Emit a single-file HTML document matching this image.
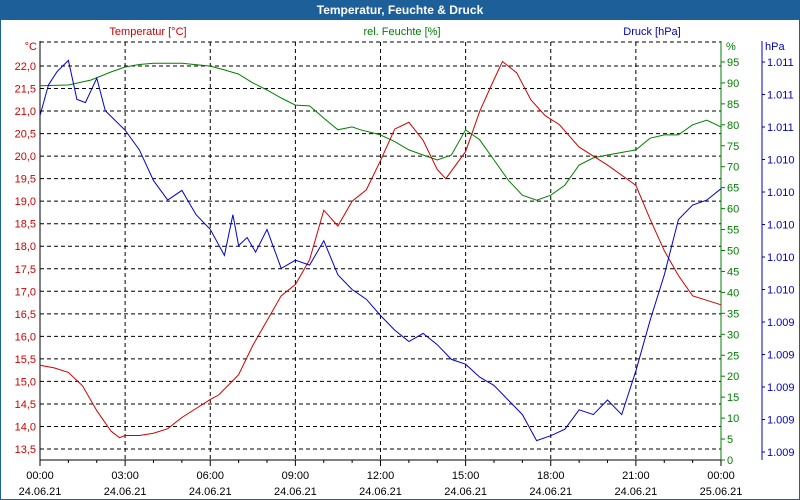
<!DOCTYPE html>
<html><head><meta charset="utf-8"><style>
body{margin:0;width:800px;height:500px;overflow:hidden;background:#fff;font-family:"Liberation Sans",sans-serif}
svg{display:block}
</style></head><body>
<svg id="c" width="800" height="500" xmlns="http://www.w3.org/2000/svg">
<rect x="0" y="0" width="800" height="500" fill="#fff" stroke="#1d5f98" stroke-width="2"/>
<rect x="0" y="0" width="800" height="20" fill="#1d5f98"/>
<text x="400" y="14" fill="#fff" font-size="12" font-weight="bold" text-anchor="middle">Temperatur, Feuchte &amp; Druck</text>
<text x="148" y="35" fill="#d00000" font-size="11" text-anchor="middle">Temperatur [°C]</text>
<text x="402" y="35" fill="#008000" font-size="11" text-anchor="middle">rel. Feuchte [%]</text>
<text x="652" y="35" fill="#0000c0" font-size="11" text-anchor="middle">Druck [hPa]</text>
<text x="37" y="50" fill="#d00000" font-size="11" text-anchor="end">°C</text>
<text x="726" y="50" fill="#008000" font-size="11">%</text>
<text x="765" y="50" fill="#0000c0" font-size="11">hPa</text>
<g id="grid"></g><g id="axes"></g><g id="series"></g>
</svg>
<script>
const tempTimes=[0,0.5,1,1.5,2,2.5,2.8,3,3.5,4,4.5,5,5.5,6,6.3,7,7.5,8,8.5,9,9.5,10,10.5,11,11.5,12,12.5,13,13.5,14,14.3,15,15.5,16,16.3,16.8,17.3,17.8,18.3,19,20,21,21.5,22,22.5,23,23.5,24];
const tempValues=[15.36,15.3,15.2,14.9,14.35,13.9,13.75,13.8,13.8,13.85,13.95,14.2,14.4,14.6,14.7,15.15,15.8,16.35,16.9,17.15,17.7,18.8,18.45,19.0,19.25,19.9,20.6,20.75,20.35,19.7,19.5,20.1,21.0,21.7,22.1,21.85,21.25,20.9,20.7,20.2,19.8,19.35,18.6,17.9,17.35,16.9,16.8,16.7];
const humTimes=[0,1,1.8,2.5,3,3.5,4,5,6,6.5,7,7.5,8,8.5,9,9.5,10,10.5,11,11.3,12,12.5,13,13.5,14,14.5,15,15.5,16,16.5,17,17.5,18,18.5,19,19.5,20,21,21.5,22,22.5,23,23.5,24];
const humValues=[89.3,89.5,90.7,92.6,93.8,94.4,94.7,94.7,94.0,93.1,92.1,90.0,88.3,86.4,84.7,84.5,81.6,78.8,79.5,78.8,77.6,76.0,74.0,72.8,71.6,72.8,78.8,76.4,71.6,66.8,63.2,62.0,63.2,65.6,70.4,72.1,72.8,74.0,76.8,77.6,77.6,80.0,81.1,79.5];
const presTimes=[0,0.3,0.6,1,1.3,1.6,2,2.3,3,3.5,4,4.5,5,5.5,6,6.5,6.8,7,7.3,7.6,8,8.5,9,9.5,10,10.5,11,11.5,12,12.5,13,13.5,14,14.5,15,15.5,16,16.5,17,17.5,18,18.5,19,19.5,20,20.5,21,21.5,22,22.5,23,23.5,24];
const presValues=[1010.87,1011.06,1011.14,1011.21,1010.97,1010.95,1011.10,1010.90,1010.78,1010.66,1010.47,1010.35,1010.41,1010.26,1010.17,1010.01,1010.26,1010.07,1010.12,1010.03,1010.17,1009.93,1009.98,1009.95,1010.10,1009.89,1009.80,1009.74,1009.64,1009.55,1009.48,1009.53,1009.46,1009.37,1009.34,1009.26,1009.21,1009.12,1009.03,1008.87,1008.90,1008.94,1009.06,1009.03,1009.12,1009.03,1009.30,1009.61,1009.89,1010.23,1010.32,1010.35,1010.42];
const tempTicks=[13.5,14.0,14.5,15.0,15.5,16.0,16.5,17.0,17.5,18.0,18.5,19.0,19.5,20.0,20.5,21.0,21.5,22.0];
const humTicks=[0,5,10,15,20,25,30,35,40,45,50,55,60,65,70,75,80,85,90,95];
const presTickValues=[1008.8,1009.0,1009.2,1009.4,1009.6,1009.8,1010.0,1010.2,1010.4,1010.6,1010.8,1011.0,1011.2];
const presTickLabels=["1.009","1.009","1.009","1.009","1.009","1.010","1.010","1.010","1.010","1.010","1.011","1.011","1.011"];
const timeLabels=["00:00","03:00","06:00","09:00","12:00","15:00","18:00","21:00","00:00"];
const dateLabels=["24.06.21","24.06.21","24.06.21","24.06.21","24.06.21","24.06.21","24.06.21","24.06.21","25.06.21"];

const X0=40,X1=721,YB=460,YT=42;
const xS=t=>X0+t/24*(X1-X0);
const yT=v=>66+(22-v)*45.06;
const yH=v=>YB-v*4.19;
const yP=v=>452-(v-1008.8)*162.5;
const NS="http://www.w3.org/2000/svg";
function mk(parent,tag,attrs){const e=document.createElementNS(NS,tag);for(const k in attrs)e.setAttribute(k,attrs[k]);document.getElementById(parent).appendChild(e);return e;}

// horizontal grid
for(const v of tempTicks){
  const g=mk('grid','line',{x1:X0,x2:X1,y1:yT(v),y2:yT(v),stroke:'#000','stroke-dasharray':'4,3'});
  
  
  const t=mk('axes','text',{x:36,y:yT(v)+4,fill:'#d00000','font-size':11,'text-anchor':'end'});
  t.textContent=v.toFixed(1).replace('.',',');
  
  
}
{const g=mk('grid','line',{x1:X0,x2:X1,y1:YT,y2:YT,stroke:'#000','stroke-dasharray':'4,3'});

}
// vertical grid + x labels
for(let i=0;i<timeLabels.length;i++){
  const x=xS(i*3);
  if(i>0&&i<8){const g=mk('grid','line',{x1:x,x2:x,y1:YT,y2:YB,stroke:'#000','stroke-dasharray':'4,3'});
  
  }
  const a=mk('axes','text',{x:x,y:479,'font-size':11,'text-anchor':'middle',fill:'#000'});a.textContent=timeLabels[i];
  
  
  const b=mk('axes','text',{x:x,y:495,'font-size':11,'text-anchor':'middle',fill:'#000'});b.textContent=dateLabels[i];
  
  
}
for(let h=0;h<=24;h++){const x=xS(h);mk('axes','line',{x1:x,x2:x,y1:YB,y2:YB+(h%3==0?6:3),stroke:'#000'});}
// axes lines
{const l=mk('axes','line',{x1:X0,x2:X0,y1:YT-1,y2:YB,stroke:'#000'});}
{const l=mk('axes','line',{x1:X0,x2:X1,y1:YB,y2:YB,stroke:'#000'});}
{const l=mk('axes','line',{x1:X1,x2:X1,y1:YT-1,y2:YB,stroke:'#008000'});}
{const l=mk('axes','line',{x1:762,x2:762,y1:YT-1,y2:YB,stroke:'#0000c0'});}
for(const v of humTicks){
  mk('axes','line',{x1:X1,x2:X1+4,y1:yH(v),y2:yH(v),stroke:'#008000'});
  const t=mk('axes','text',{x:X1+6,y:yH(v)+4,fill:'#008000','font-size':11});t.textContent=v;
  
  
}
for(let i=0;i<presTickValues.length;i++){
  const y=yP(presTickValues[i]);
  mk('axes','line',{x1:762,x2:765,y1:y,y2:y,stroke:'#0000c0'});
  const t=mk('axes','text',{x:767,y:y+4,fill:'#0000c0','font-size':11});t.textContent=presTickLabels[i];
  
  
}
function line(times,vals,yf,color,name){
  const p=times.map((t,i)=>xS(t).toFixed(1)+','+yf(vals[i]).toFixed(1)).join(' ');
  const e=mk('series','polyline',{points:p,fill:'none',stroke:color,'stroke-width':1});
  
  
}
line(humTimes,humValues,yH,'#008000','humidity-line');
line(tempTimes,tempValues,yT,'#d00000','temperature-line');
line(presTimes,presValues,yP,'#0000d0','pressure-line');
</script>
</body></html>
